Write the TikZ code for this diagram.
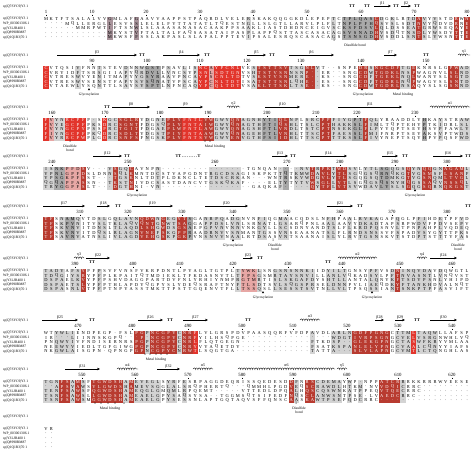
\documentclass[tikz,border=0pt]{standalone}
\usepackage{fontspec}
\setmainfont{Liberation Serif}
\usetikzlibrary{arrows.meta,decorations.pathmorphing,shapes.geometric}

\definecolor{idred}{HTML}{E2352C}
\definecolor{simred}{HTML}{B83B30}
\definecolor{lgrey}{HTML}{D3D3D3}
\definecolor{dgrey}{HTML}{A9A9A9}
\definecolor{pinkc}{HTML}{E7A7A5}
\definecolor{mauve}{HTML}{A8949B}

\tikzset{
  res/.style={inner sep=0pt, font=\fontsize{4.5}{5}\selectfont},
  seqname/.style={anchor=west, inner sep=0pt, font=\fontsize{3.6}{4}\selectfont},
  numlab/.style={inner sep=0pt, font=\fontsize{4.8}{5}\selectfont},
  numtick/.style={line width=0.35pt},
  sslab/.style={inner sep=0.3pt, font=\fontsize{4}{4}\selectfont},
  turn/.style={inner sep=0pt, font=\bfseries\fontsize{4.2}{4}\selectfont},
  annot/.style={inner sep=0pt, align=center, font=\fontsize{3.6}{3.9}\selectfont},
  annmark/.style={inner sep=0pt, font=\fontsize{4}{4}\selectfont},
  tri/.style={regular polygon, regular polygon sides=3, fill=black, inner sep=0pt, minimum size=2.6pt},
  strand/.style={line width=0.5pt, -{Stealth[length=3pt,width=2.6pt]}},
  helix/.style={line width=0.3pt, decorate, decoration={coil, aspect=0.6, segment length=2.4pt, amplitude=1.2pt}},
  cellr/.style={fill=idred},
  cellb/.style={fill=simred},
  cellg/.style={fill=lgrey},
  celld/.style={fill=dgrey},
  cellp/.style={fill=pinkc},
  cellm/.style={fill=mauve}
}

\makeatletter
\newcount\colno
\newcount\rowno
\newcount\annno
\def\pitch{5.33}
\def\rowsep{4.6}
\def\lc@r{white}\def\lc@b{white}\def\lc@g{black}\def\lc@d{black}\def\lc@p{black}\def\lc@m{black}
\expandafter\def\csname lc@.\endcsname{black}
\def\nameA{sp|Q7SYC9|Y3 1}
\def\nameB{WP\_003001306.1}
\def\nameC{sp|Y3LJR400 1}
\def\nameD{sp|Q8990RM87}
\def\nameE{sp|Q1Q1R3|70 1}
% one block: name, y of first row, column shading
\def\block#1#2#3{\gdef\blk{#1}\gdef\blky{#2}\global\rowno=0
  \node[seqname] (ss-#1) at (3,{#2-12}) {\nameA};
  \global\colno=0 \sh@walk#3\relax}
\def\sh@walk#1{\ifx#1\relax\else
  \global\advance\colno by 1
  \expandafter\xdef\csname sh@\the\colno\endcsname{#1}%
  \if#1.\else
    \fill[cell#1] ({46+(\the\colno-1)*\pitch-\pitch/2},{\blky-2.5}) rectangle ++(\pitch,{4*\rowsep+5});
  \fi
  \expandafter\sh@walk\fi}
% one sequence row
\def\resrow#1#2{\global\advance\rowno by 1 \global\colno=0
  \node[seqname] (name-\blk-\the\rowno) at (3,{\blky+(\the\rowno-1)*\rowsep}) {#1};
  \rs@walk#2\relax}
\def\rs@walk#1{\ifx#1\relax\else
  \global\advance\colno by 1
  \edef\shc{\csname sh@\the\colno\endcsname}%
  \edef\rescol{\csname lc@\shc\endcsname}%
  \node[res, text=\rescol] (\blk-\the\rowno-\the\colno) at ({46+(\the\colno-1)*\pitch},{\blky+(\the\rowno-1)*\rowsep}) {#1};
  \expandafter\rs@walk\fi}
\makeatother
\newcommand\seqs[5]{\resrow{\nameA}{#1}\resrow{\nameB}{#2}\resrow{\nameC}{#3}\resrow{\nameD}{#4}\resrow{\nameE}{#5}}
\newcommand\numrow[1]{\foreach \x/\n in {#1} {%
  \node[numlab] (num\n) at (\x,{\blky-7}) {\n};
  \draw[numtick] (num\n.south) ++(0,0.8) -- ++(0,1.3);}}
\newcommand\strandat[3]{\global\advance\annno by 1
  \draw[strand] (#1,{\blky-13}) -- node[sslab, above=0.4pt] (ss\the\annno) {#3} (#2,{\blky-13});}
\newcommand\helixat[3]{\global\advance\annno by 1
  \draw[helix] (#1,{\blky-13}) -- node[sslab, above=1.6pt] (ss\the\annno) {#3} (#2,{\blky-13});}
\newcommand\turnat[2][13]{\global\advance\annno by 1
  \node[turn] (tt\the\annno) at (#2,{\blky-#1}) {TT};}
\newcommand\glyco[1]{\global\advance\annno by 1
  \node[tri] (gly\the\annno) at (#1,{\blky+21.4}) {};}
\newcommand\metal[1]{\global\advance\annno by 1
  \node[annmark] (met\the\annno) at (#1,{\blky+22}) {*};}
\newcommand\disu[1]{\global\advance\annno by 1
  \node[annmark] (dis\the\annno) at (#1,{\blky+21.6}) {1};}
\newcommand\annotxt[2]{\global\advance\annno by 1
  \node[annot, anchor=north] (txt\the\annno) at (#1,{\blky+24.4}) {#2};}

\begin{document}
\begin{tikzpicture}[x=1pt,y=-1pt]
\useasboundingbox (0,0) rectangle (474,451);
\fill[white] (0,0) rectangle (474,451);

% block 1
\block{b1}{19}{.......... ..m....m.. .......... ........g. .......... ....g.dddd ddbg.g..gg bg.g...b.b}
\seqs{MKTFTSALAL VVGMLAFGAA VVAAPPSTPA QRDLVELERS KAKQQGGKDL EPEPTCTPLQ ASCDGKLRTD AVYVSTDRWN}
     {....MQLLER GLLESVSSLE LELFYTTATA TLTQESTNGL LSLGTLLARV LPLFLTNPLP FHQSVSLSDT NVYQDVDRNE}
     {......MMRP WTIFTSNWLS LAAASANASA CAAKPPSAAK LIASTDHDNC EIGVSCKSFD SVLQLDSSEA TGRWSEQAYE}
     {.......... ..MKYSTVFT ALTALFAQSA SATAIPASPL APPQSTTASC ASACAGSVSN ADHVSDQTNS DLYWSDVTTE}
     {.......... ..MKWSFFSS LAKPASLSLA FALPPTEVIP SALESRQSCA SACAGSTSNS GDHVSDDLSN TSLYWSNTTE}
\numrow{46/1,92/10,146/20,200/30,253/40,307/50,361/60,414/70,467/80}
\turnat{352} \turnat{367} \strandat{374}{391}{β1} \turnat{396} \strandat{401}{411}{β2} \turnat{417}
\disu{334} \disu{376} \annotxt{355}{Disulfide bond}

% block 2
\block{b2}{68}{r.....g... g....g.ggd dd.g..g.gr rprrrrr..g bbbbbbgggb bg.......b bgbbbbbggb ......bbgg}
\seqs{CVTQSIVFNN TSTEVDNNWG SYPSAVLISN CAYPCNLVES TSTTSVTSGN LVT..SNPED RSNGCDFTGE KNRSLGPWAD}
     {CVRYIDFTSR SGIIAPYQRD VLLVNCSYPS NLSDTGNVSH TSTVSNNSNP ..ER..SNGC DWTGDKLNSP WAGNVLSLND}
     {CVTRESWVYE NITMAPYYGS YRAAVPNCAY PSCNLTDTVS KSTVSNMERE ..KS..SNGC DFTGEKLNQL WANYSLSGTD}
     {CVTRESWVSE NSTFAPYSVS QNATVPSCAY PCNLTDTISA TSTTSNLQHE ..ES..SNGC DFTGDRLNQP WAGVSLSNTD}
     {CVTAEWLYSQ NTTLSAYSYS PTLNFNCAQY PCQLTDTVSA KLTTSKLTSE ..KS..SNGC DWTGDRLNSA QYSLSGSNND}
\numrow{92/90,147/100,200/110,247/120,301/130,361/140,426/150}
\strandat{57}{137}{β3} \turnat{142} \strandat{163}{200}{β4} \turnat{207}
\strandat{247}{266}{β5} \turnat{272} \strandat{289}{334}{β6} \strandat{384}{397}{β7}
\turnat{426} \helixat{458}{470}{η1}
\glyco{89} \annotxt{89}{Glycosylation} \glyco{362} \annotxt{363}{Glycosylation}
\metal{387} \metal{398} \annotxt{403}{Metal binding}

% block 3
\block{b3}{120}{rpggrrrr.g .rggbbbb.g .ggbbbrrrr bbgggbbggg gdddbbgg.g ggbbggggdd bgg....... .d..g...gg}
\seqs{FVYNRCPFP. SKGCSGLRYD GNEPLYFNTL VWGWYQNAGN HYTIQLNPLS RCPPFIYGPT FQLYRAADDL YHKAYSTRAW}
     {FVYEGCPFPK SDRCSGNTFD GSQPLYFNTA IWGWYQNAGT HFTIQSHLTS LCPTHAKKSL FIMLTQPTEH YPTKIDRLSL}
     {FVYNGCPYPS SPRCTGITFD GAEPLWFNTL AWGWYQNAGS HFTLVNDLTS TCPTNSEKGL FLPYYQPTSE YHSVPFAWLY}
     {FIYNGCPFPK QDRCSDLTYD GSTPIYFNTA AWGWYQNAGE HFTLVNHLTT SCPTFAESSL FMIFNRPTSE YAKSVPTWDS}
     {FVYRRCPWPL GDRCSNFSFN GSKPLYFNTS VWGWYENVGT HFSIIDHLTT SCPTTTKSSL FIVYNEPTSQ YHPVPQSFWD}
\numrow{52/160,105/170,160/180,208/190,267/200,316/210,357/220,415/230}
\turnat{107} \strandat{112}{150}{β8} \strandat{168}{203}{β9} \helixat{227}{240}{η2}
\strandat{265}{300}{β10} \strandat{338}{402}{β11} \helixat{430}{470}{α1}
\disu{70} \annotxt{70}{Disulfide\\bond} \metal{205} \metal{210} \annotxt{215}{Metal binding}

% block 4
\block{b4}{169}{ggddpppb.. ..gbggb... .g........ .gggggg... ....gd.ggg bgbbgbbgg. gggddgggbg gbbggbbbbg}
\seqs{ISNKPFDSV. ..VSGQCAVN PN........ ........TG NQAN....NV TRPKTWDSVL YTLSGQGSQY NQQGNAGAML}
     {YPNLGPFDSL DNNSQLKMNT DCSTVAPGDN TRGCDSAGIS KPKTTQTKMW DAVLYTLSGQ GSQRNQKGTV GSMSFLSANF}
     {YPSGKPFSST ...TGSKNLT DTPLDKNCLT ETDSCRKAN. ..WNTRSKVW DGVLYTLSGQ GSQTDMKGTV GSNQMLTVGL}
     {QGQAPFASSN ..TKSTNIVD CSASTDANCV TGSKQKAF.. ..ELTYTYTV WSGLLYTLSG QGSQSNYHQG SSAQVNSSQL}
     {TRYGGPFSLT ...DGTHNI. VN........ .........G AQKAF..... QYTFLYTSVW DAVLYSLSGQ GSQRNQKGST}
\numrow{52/240,128/250,215/260,287/270,340/280,395/290,447/300}
\strandat{93}{122}{β12} \turnat{127}
\global\advance\annno by 1
\node[turn] (tt\the\annno) at (188,{\blky-13}) {TT\,.\,.\,.\,.\,.\,.\,.\,.\,.\,T};
\strandat{272}{288}{β13} \turnat{293} \strandat{310}{347}{β14}
\strandat{382}{398}{β15} \turnat{405} \strandat{433}{463}{β16} \turnat{468}
\glyco{137} \annotxt{137}{Glycosylation} \glyco{415} \annotxt{415}{Glycosylation}

% block 5
\block{b5}{219}{bb.gddg... gg.gggggbb bgbggbbd.. gggg.gg... gg..gg.... ...gg..g.g ggg...g... gg..g...g.}
\seqs{TFSNAMQVTD SLGQLAVNQD WNGEGYTSGA NRPQADGNVN FIQGMAACQD SLNFHPAALR VKAGAPQGLP FIHDETPFVD}
     {TFSKPVNITV SLTKLAQVQN TGNWTSAGGA PPDSLVNLSR NATLGSARQP NLAALAAVYD KADTAPSRPW DVFPDVSEPV}
     {TFSKVNVITD NSLTLAQDLS HGWDSGSAEP GPVNVNNVNK GYLLSCSDNY ANDTSLFLKR DPQSNVLTPN PAHPLVQDEQ}
     {TFSKVNVITD QSLRLAGNVN EFSKGPPRAA DRNVVSNMAN TGSSVNSEAA NATSLFLRND SNSSVFSPAD VSYGYTTPKS}
     {TFSAVNVATN SLIVLAGDVE HGSKPGKPVN SNVVNAALRT DSASVNTSAA NAISLYLRVT GSNSKVTSTD PTSTTTYFAS}
\numrow{80/310,128/320,182/330,233/340,287/350,340/360,392/370,447/380}
\strandat{43}{85}{β17} \strandat{97}{110}{β18} \turnat{118} \strandat{132}{173}{β19}
\strandat{205}{248}{β20} \strandat{327}{353}{β21} \turnat{360} \turnat{468}
\glyco{233} \annotxt{233}{Glycosylation} \disu{273} \annotxt{275}{Disulfide\\bond}
\disu{458} \annotxt{458}{Disulfide\\bond}

% block 6
\block{b6}{271}{gggg.ggb.. g......... .......... ......gppp g..ggggggg g..gggg... .gg..gbggg ggg.g.....}
\seqs{TADYAFSYPF PSVFVNSFVK RPDNTLPYAG LTGTPLTYWK LSNGSNSNNK IIDYILTGNS YPFVSDNINQ VDAVDQWGTL}
     {TDQGIYSRYP FPLKPAITQT MDIEKLTFKD ASNVTLTFPS GSMRTAYSNV ILLANLVQKA DSYLPFTNVA SNTLVNQVST}
     {DSPAELKVYP FPSHVDAGGP ARTDVFNLYR HIYNMPRGTM RTISLSKGAF DYSHTLLANT ALQNYKFTSD YPSNLYHIPD}
     {DSPAETSLYP FPTHLAPDYQ GPYSLYDEQS RAFTNYFTLS DTSVLSQGSP RSELDNNPVL IAEQDKYFTA NKHDVALNQT}
     {DSPASNLVTP FPTNPYASST MKTTPSTTGQ ENVTFLLTSS QSLLSESSTS VTNLLVLTPS QSSIANTSNK PTPFASVIFT}
\numrow{75/390,133/400,180/410,233/420,288/430,342/440,400/450,452/460}
\helixat{74}{84}{η3} \strandat{86}{110}{β22} \turnat[9]{92}
\strandat{243}{253}{β23} \turnat{260} \turnat[9]{328} \helixat{338}{377}{α2}
\helixat{417}{427}{η4} \strandat{430}{457}{β24}
\glyco{263} \annotxt{263}{Glycosylation} \glyco{372} \annotxt{372}{Glycosylation}

% block 7
\block{b7}{333}{..gggg.... .......bbg bbbbbgbbr. .......... .......... g...ggggbb bbbbb.gggr gggg......}
\seqs{WTYWLIENDP EGP.FSLPGP NCGPYCNRFL VLGRSPDVPA ASQQRFVFDP AVDLARLNGD FPGNGCTTML TAQWLLAFSP}
     {IR...LIINN SKGPQ...P. NCGPYCNRFY ILHSQPGE.. .......... ....WDGTIV RPSGNGCVEL VSRGNWHLVQ}
     {PNQWYIVFND ISERNRSPGP NCGPYCNRLF LQTGEGN... .......... FTKDSP..GL EKGPNGCTAS WFKRYVMLAA}
     {NEEWYVIEDL TGFGIWGPGP NCGPYCNRYV YAQETDY... .......... FSATKSPANL ELYPNGCVAA LCQNYYIAFS}
     {NKGWLAISGP N.QPNGPGPN CGPYCNRWTL SQGTGA.... .......... TATTA...SL VLAPNGCVMT LCTQNGHLAS}
\numrow{78/470,132/480,188/490,242/500,293/510,347/520,398/530,452/540}
\strandat{42}{78}{β25} \turnat{92} \strandat{138}{163}{β26} \turnat{170}
\strandat{183}{208}{β27} \turnat{248} \helixat{300}{320}{α3}
\strandat{375}{384}{β28} \strandat{395}{405}{β29} \turnat{417} \strandat{430}{457}{β30}
\metal{145} \metal{150} \metal{156} \metal{161} \metal{167} \annotxt{156}{Metal binding}

% block 8
\block{b8}{382}{gggbbgbg.b bbbbbgbggg gg.gg.g... .......... ......bg.b bggggg.g.g ...bbbbg.. ..........}
\seqs{TGNFSAMSFT GWDSHAMEVE GLSYRFESRP AGGDEQRISS QEDESDDFNR SCDEMAYWP. NPPATCRRRK KRRRWVEESE}
     {..APSVAWSY LGWDSHAMEV SGGLALSRQP HERTQ...QM MHLPGDVEQS CRAWDLHTKM .NVVDQICRR C.........}
     {TENFSAWSFQ GWDSHAMEQG LGMQMLRPQE MT.....VTT EDLDPQALHQ SCQSWNKATP PEQVTQECRR C.........}
     {TSNFSAWSLL GWDSHAMEAE LGPYSAQSYS A..TGGMSQT SIFEDFNQSC LANWSNTPSE .LVAEDCRRC ..........}
     {TSNFSAWSMG GWDSHAMEAE LGPYSESSNL APTGQTAQVS FFQNSCAASK AWTPSEPQDC RRC....... ..........}
\numrow{82/550,135/560,188/570,242/580,293/590,347/600,398/610,452/620}
\strandat{65}{100}{β31} \helixat{117}{138}{α4} \strandat{157}{180}{β32}
\helixat{193}{213}{α5} \helixat{238}{335}{α6} \helixat{337}{347}{η5}
\metal{95} \metal{101} \metal{108} \metal{115} \metal{124} \annotxt{110}{Metal binding}
\disu{296} \annotxt{299}{Disulfide\\bond}

% block 9
\block{b9}{429}{..}
\seqs{VR}{..}{..}{..}{..}

\end{tikzpicture}
\end{document}
